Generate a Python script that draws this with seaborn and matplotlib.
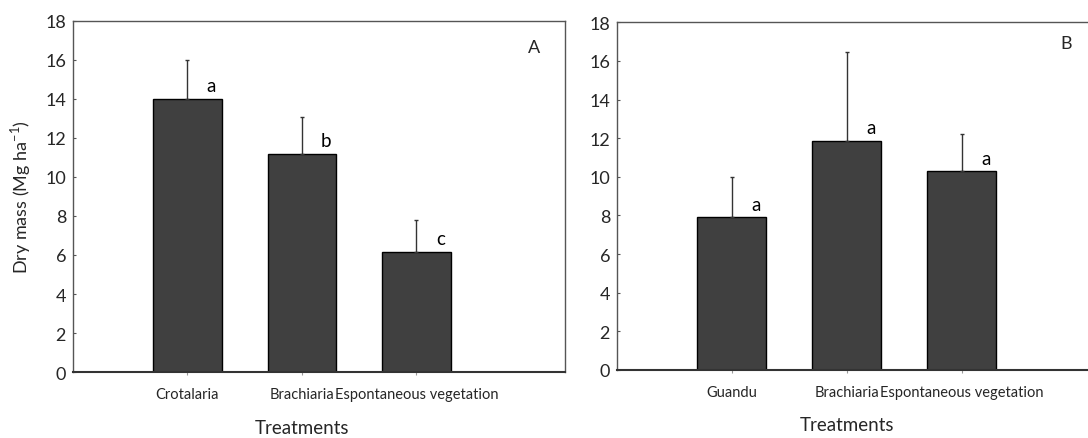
import matplotlib
matplotlib.use("Agg")
import matplotlib.pyplot as plt
import seaborn as sns
import numpy as np
import pandas as pd

# Dry mass of cover crops (Mg ha-1), mean and upper standard deviation
cats_a = ["Crotalaria", "Brachiaria", "Espontaneous vegetation"]
mean_a = [14.0, 11.2, 6.15]
err_a = [2.0, 1.9, 1.63]
letters_a = ["a", "b", "c"]

cats_b = ["Guandu", "Brachiaria", "Espontaneous vegetation"]
mean_b = [7.9, 11.85, 10.28]
err_b = [2.08, 4.63, 1.93]
letters_b = ["a", "a", "a"]

yticks = [0, 2, 4, 6, 8, 10, 12, 14, 16, 18]

sns.set_theme(style="white")
plt.rcParams["font.family"] = ["Lato", "DejaVu Sans"]

fig = plt.figure(figsize=(10.88, 4.39), dpi=100)
ax_a = fig.add_axes([0.0671, 0.1503, 0.4522, 0.7997])
ax_b = fig.add_axes([0.5671, 0.1549, 0.4540, 0.7920])

bar_color = "#404040"
spine_color = "#555555"


def draw_panel(ax, cats, means, errs, letters, tag, tag_xy):
    df = pd.DataFrame({"treatment": cats, "mass": means})
    sns.barplot(data=df, x="treatment", y="mass", ax=ax, color=bar_color,
                saturation=1, width=0.6, edgecolor="black", linewidth=1.0,
                errorbar=None)
    x = np.arange(len(cats))
    ax.errorbar(x, means, yerr=[np.zeros(len(errs)), errs], fmt="none",
                ecolor="#333333", elinewidth=1.0, capsize=1.2, capthick=1.0)
    for xi, m, lt in zip(x, means, letters):
        ax.text(xi + 0.21, m + 0.25, lt, ha="center", va="bottom",
                fontsize=13.5, color="black")
    ax.set_xlim(-1, 3.3)
    ax.set_ylim(0, 18)
    ax.set_yticks(yticks)
    ax.set_yticklabels([str(t) for t in yticks], fontsize=13)
    ax.set_xticks(x)
    ax.set_xticklabels(cats, fontsize=10.5)
    ax.tick_params(axis="y", direction="in", length=2, width=0.8,
                   color=spine_color, pad=5, left=True)
    ax.tick_params(axis="x", direction="out", length=2, width=0.8,
                   color="#999999", pad=9, bottom=True)
    ax.set_xlabel("")
    ax.set_ylabel("")
    ax.text(1, -0.158, "Treatments", transform=ax.get_xaxis_transform(),
            ha="center", va="center", fontsize=13.5)
    for side in ["top", "left", "right"]:
        ax.spines[side].set_color(spine_color)
        ax.spines[side].set_linewidth(1.0)
    ax.spines["bottom"].set_color("#333333")
    ax.spines["bottom"].set_linewidth(1.5)
    ax.text(tag_xy[0], tag_xy[1], tag, transform=ax.transAxes,
            ha="center", va="center", fontsize=13)


draw_panel(ax_a, cats_a, mean_a, err_a, letters_a, "A", (0.937, 0.925))
draw_panel(ax_b, cats_b, mean_b, err_b, letters_b, "B", (0.91, 0.94))

ax_a.set_ylabel("Dry mass (Mg ha$^{\\mathregular{-1}}$)", fontsize=13,
                labelpad=9)

fig.savefig("out.png", dpi=100)
